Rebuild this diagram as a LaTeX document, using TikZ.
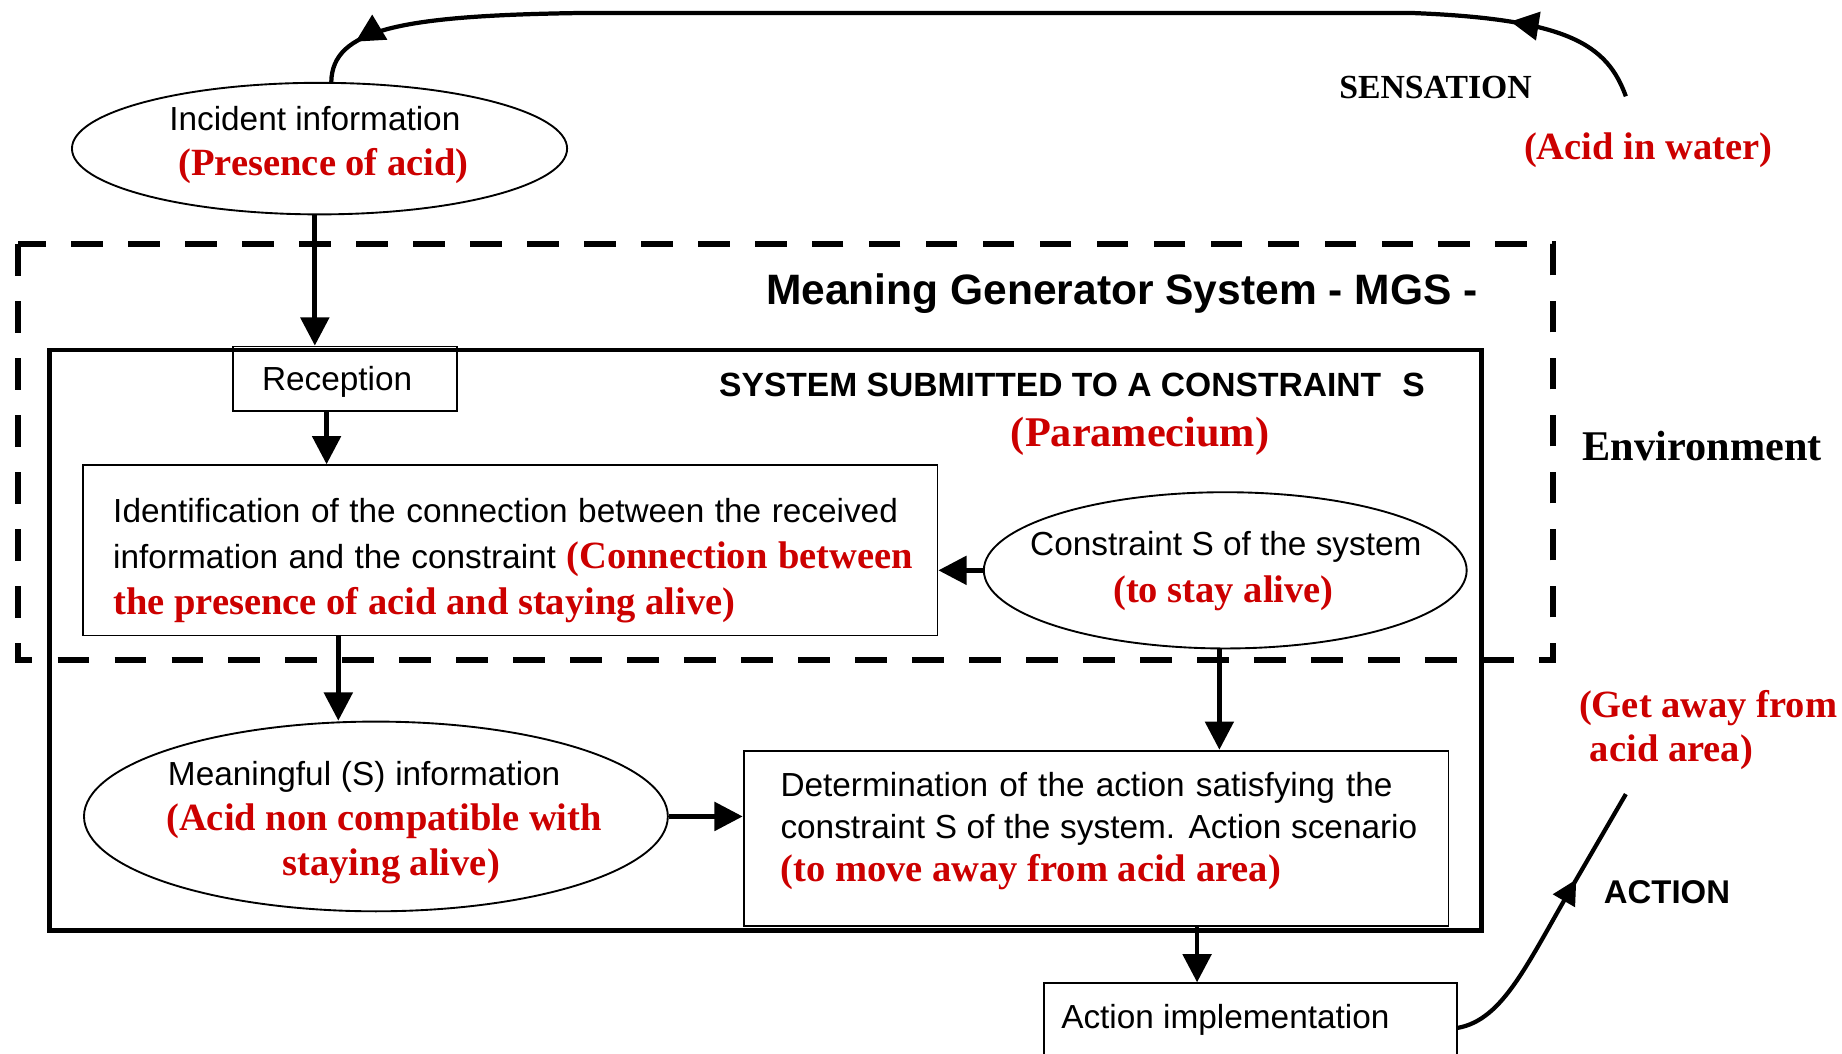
\documentclass[tikz,border=0pt]{standalone}
\usepackage{fontspec}
\setmainfont{Liberation Serif}
\setsansfont{Liberation Sans}
\usetikzlibrary{arrows.meta,shapes.geometric,decorations.markings,calc}
\definecolor{accred}{RGB}{204,0,0}
\newlength\upx
\setlength\upx{0.5pt}
\newcommand\fsans{\sffamily\fontsize{14.2pt}{17pt}\selectfont}
\newcommand\fredb{\rmfamily\bfseries\fontsize{16.4pt}{19pt}\selectfont\color{accred}}
\begin{document}
\begin{tikzpicture}[x=0.5pt,y=-0.5pt,
  thinbox/.style={draw, line width=0.8pt, rectangle, inner sep=0pt},
  oval/.style={draw, line width=0.8pt, ellipse, inner sep=0pt},
  arr/.style={line width=2pt, -{Triangle[length=12pt,width=12pt]}},
  curvarr/.style={line width=1.8pt},
  lbl/.style={inner sep=0pt, anchor=base},
  lblw/.style={inner sep=0pt, anchor=base west},
  redlbl/.style={font=\rmfamily\bfseries\fontsize{16.4pt}{19pt}\selectfont, text=accred},
  sanslbl/.style={font=\fsans}
]
\useasboundingbox (0,0) rectangle (1568,897);
\clip (0,0) rectangle (1568,897);

% environment (dashed) and system frame
\draw[line width=2.5pt, dash pattern=on 13.5pt off 10.75pt] (15,208) rectangle (1322,562);
\draw[line width=2pt] (42,298) rectangle (1261,792);

% nodes
\node[oval, minimum width=421.5\upx, minimum height=112\upx] (inc) at (272,126.5) {};
\node[thinbox, minimum width=191\upx, minimum height=55\upx] (rec) at (293.5,322.5) {};
\node[thinbox, minimum width=727\upx, minimum height=145\upx] (ident) at (434.5,468.5) {};
\node[oval, minimum width=411\upx, minimum height=133\upx] (cons) at (1043,485.5) {};
\node[oval, minimum width=497\upx, minimum height=161.5\upx] (mean) at (320,695) {};
\node[thinbox, minimum width=600\upx, minimum height=149\upx] (det) at (933,713.5) {};
\node[thinbox, minimum width=351\upx, minimum height=76\upx] (act) at (1064.5,875) {};

% helper coordinates for connector x positions
\coordinate (xa) at (268,0);
\coordinate (xb) at (278,0);
\coordinate (xc) at (288,0);
\coordinate (xd) at (1038,0);
\coordinate (xe) at (1019,0);
\coordinate (sensS) at (1384,82);
\coordinate (actE) at (1384,676);

% straight connectors
\draw[arr] (inc.south -| xa) -- (xa |- rec.north);
\draw[arr] (rec.south -| xb) -- (xb |- ident.north);
\draw[arr] (ident.south -| xc) -- (xc |- mean.north);
\draw[arr] (cons.west) -- (cons.west -| ident.east);
\draw[arr] (cons.south -| xd) -- (xd |- det.north);
\draw[arr] (mean.east) -- (mean.east -| det.west);
\draw[arr] (det.south -| xe) -- (xe |- act.north);

% sensation loop
\draw[curvarr, decoration={markings,
    mark=at position 62pt with {\arrow{Triangle[length=12pt,width=12pt]}},
    mark=at position -21pt with {\arrow{Triangle[length=12pt,width=12pt]}}},
  postaction={decorate}]
  (sensS) .. controls (1368,38) and (1335,16) .. (1200,11) -- (500,11)
  .. controls (340,13) and (283,25) .. ($(inc.north)+(10,0)$);

% action arrow
\draw[curvarr, decoration={markings,
    mark=at position -42pt with {\arrow{Triangle[length=10.5pt,width=10.5pt]}}},
  postaction={decorate}]
  (act.east) .. controls (1280,868) and (1300,820) .. (1341,750) -- (actE);

% texts
\node[lbl, sanslbl] (inct1) at (268,110.7) {Incident information};
\node[lbl, redlbl] (inct2) at (275.5,149) {(Presence of acid)};
\node[lbl, font=\rmfamily\bfseries\fontsize{14.35pt}{17pt}\selectfont] (sens) at (1222,83.7) {SENSATION};
\node[lbl, redlbl] (acid) at (1403,136) {(Acid in water)};
\node[lbl, font=\sffamily\bfseries\fontsize{18.1pt}{21pt}\selectfont] (mgs) at (955,259.6) {Meaning Generator System - MGS -};
\node[lbl, sanslbl] (rect) at (287,332) {Reception};
\node[lbl, font=\sffamily\bfseries\fontsize{14.3pt}{17pt}\selectfont] (sysl) at (912.5,337.7) {SYSTEM SUBMITTED TO A CONSTRAINT\hspace{9pt}S};
\node[lbl, redlbl, font=\rmfamily\bfseries\fontsize{18pt}{21pt}\selectfont] (para) at (970.5,380) {(Paramecium)};
\node[lbl, font=\rmfamily\bfseries\fontsize{18pt}{21pt}\selectfont] (env) at (1449,392) {Environment};

\node[lblw] (id1) at (96,445) {\makebox[668\upx][s]{\fsans Identification of the connection between the received}};
\node[lblw] (id2) at (96,484) {\makebox[681\upx][s]{\fsans information and the constraint {\fredb (Connection between}}};
\node[lblw, redlbl] (id3) at (96,523) {the presence of acid and staying alive)};

\node[lbl, sanslbl] (ct1) at (1043.5,473) {Constraint S of the system};
\node[lbl, redlbl] (ct2) at (1041.5,512.5) {(to stay alive)};

\node[lbl] (mt1) at (310,669) {\makebox[334\upx][s]{\fsans Meaningful (S) information}};
\node[lbl, redlbl] (mt2) at (327,707) {(Acid non compatible with};
\node[lbl, redlbl] (mt3) at (333,745) {staying alive)};

\node[lblw] (dt1) at (664,677.6) {\makebox[521\upx][s]{\fsans Determination of the action satisfying the}};
\node[lblw] (dt2) at (664,714) {\makebox[542\upx][s]{\fsans constraint S of the system. Action scenario}};
\node[lblw, redlbl] (dt3) at (664,750) {(to move away from acid area)};

\node[lblw, sanslbl] (at1) at (903,875.6) {Action implementation};
\node[lbl, font=\sffamily\bfseries\fontsize{14pt}{17pt}\selectfont] (actl) at (1419,769) {ACTION};
\node[lblw, redlbl] (ga1) at (1343.8,610.6) {(Get away from};
\node[lblw, redlbl] (ga2) at (1353,648.4) {acid area)};
\end{tikzpicture}
\end{document}
